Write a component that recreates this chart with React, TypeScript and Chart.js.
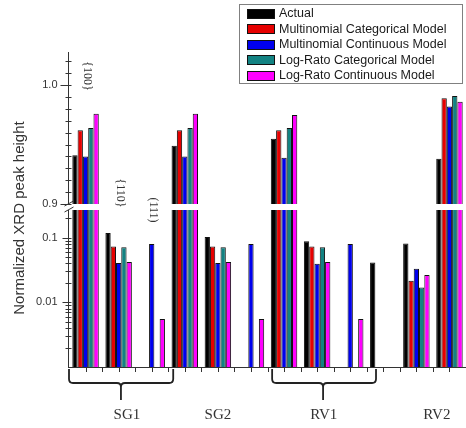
import React, { useEffect, useRef } from 'react';
import { Chart, registerables } from 'chart.js';

Chart.register(...registerables);

// ---- data ----
const categories = [
  'SG1 {100}', 'SG1 {110}', 'SG1 (111)',
  'SG2 {100}', 'SG2 {110}', 'SG2 (111)',
  'RV1 {100}', 'RV1 {110}', 'RV1 (111)',
  'RV2 (111)', 'RV2 {110}', 'RV2 {100}',
];
const seriesNames = [
  'Actual',
  'Multinomial Categorical Model',
  'Multinomial Continuous Model',
  'Log-Rato Categorical Model',
  'Log-Rato Continuous Model',
];
const actual = [0.941, 0.118, null, 0.949, 0.1025, null, 0.955, 0.088, null, 0.0414, 0.081, 0.938];
const multinomialCategorical = [0.962, 0.073, null, 0.962, 0.073, null, 0.962, 0.073, null, null, 0.0216, 0.989];
const multinomialContinuous = [0.94, 0.0405, 0.08, 0.94, 0.0405, 0.08, 0.939, 0.0396, 0.08, null, 0.033, 0.982];
const logRatoCategorical = [0.964, 0.0708, null, 0.964, 0.0708, null, 0.964, 0.0708, null, null, 0.017, 0.991];
const logRatoContinuous = [0.976, 0.042, 0.0055, 0.976, 0.042, 0.0055, 0.975, 0.042, 0.0055, null, 0.0264, 0.986];
const seriesColors = ['#000000', '#e60000', '#0000ee', '#128282', '#ff00ff'];

const groupLabels = ['SG1', 'SG2', 'RV1', 'RV2'];
const planeLabels = ['{100}', '{110}', '(111)'];
const upperLabelTicks = [0.9, 1.0];
const lowerLabelTicks = [0.01, 0.1];

// axis break: upper part linear from BREAK, lower part logarithmic up to LOW_CAP
const BREAK = 0.9;
const LOW_CAP = 0.3;

const allSeries = [actual, multinomialCategorical, multinomialContinuous, logRatoCategorical, logRatoContinuous];

// ---- layout constants (pixels) ----
const W = 466;
const H = 428;

const decorPlugin = {
  id: 'decor',
  afterDatasetsDraw(chart: any) {
    const { ctx, chartArea: ca, scales } = chart;
    const xs = scales.x;
    const yLow = scales.yLow;
    const yHigh = scales.yHigh;
    const axisX = ca.left - 0.5;
    const breakTop = Math.round(yHigh.getPixelForValue(BREAK));
    const breakBottom = breakTop + 6;
    const half = (xs.getPixelForValue(1) - xs.getPixelForValue(0)) / 2;

    ctx.save();
    // white gap across the bars
    ctx.fillStyle = '#ffffff';
    ctx.fillRect(ca.left - 6, breakTop, ca.right - ca.left + 6, breakBottom - breakTop);

    ctx.strokeStyle = '#333333';
    ctx.lineWidth = 1;
    const hline = (y: number, x0: number, x1: number) => {
      const yy = Math.round(y) + 0.5;
      ctx.beginPath();
      ctx.moveTo(x0, yy);
      ctx.lineTo(x1, yy);
      ctx.stroke();
    };

    // y axis line (broken)
    ctx.beginPath();
    ctx.moveTo(axisX, ca.top);
    ctx.lineTo(axisX, breakTop);
    ctx.moveTo(axisX, breakBottom);
    ctx.lineTo(axisX, ca.bottom + 1);
    ctx.stroke();
    // break marks
    ctx.beginPath();
    ctx.moveTo(axisX - 4, breakTop + 2);
    ctx.lineTo(axisX + 5, breakTop - 3);
    ctx.moveTo(axisX - 4, breakBottom + 2);
    ctx.lineTo(axisX + 5, breakBottom - 3);
    ctx.stroke();

    ctx.font = '11px "Liberation Sans", Arial, sans-serif';
    ctx.fillStyle = '#333333';
    ctx.textAlign = 'right';
    ctx.textBaseline = 'middle';

    // upper ticks (linear)
    for (let k = 90; k <= 102; k++) {
      const v = k / 100;
      const y = yHigh.getPixelForValue(v);
      const major = upperLabelTicks.some((t) => Math.abs(t - v) < 1e-9);
      hline(y, major ? axisX - 8 : axisX - 3, axisX + 3);
      if (major) ctx.fillText(v.toFixed(1), axisX - 11, y);
    }
    // lower ticks (log)
    for (const d of [0.001, 0.01, 0.1]) {
      for (let m = 1; m <= 9; m++) {
        const v = m * d;
        if (v > LOW_CAP + 1e-9) break;
        if (m === 1 && d === 0.001) continue;
        const y = yLow.getPixelForValue(v);
        if (y < breakBottom + 1) continue;
        const major = lowerLabelTicks.some((t) => Math.abs(t - v) < 1e-12);
        hline(y, major ? axisX - 6 : axisX - 3, axisX + 3);
        if (major) ctx.fillText(String(v), axisX - 11, y);
      }
    }

    // x axis line and ticks
    hline(ca.bottom, axisX, ca.right);
    ctx.beginPath();
    for (let i = 0; i < categories.length; i++) {
      const c = Math.round(xs.getPixelForValue(i)) + 0.5;
      ctx.moveTo(c, ca.bottom);
      ctx.lineTo(c, ca.bottom + 5);
      if (i < categories.length - 1) {
        const b = Math.round(xs.getPixelForValue(i) + half) + 0.5;
        ctx.moveTo(b, ca.bottom);
        ctx.lineTo(b, ca.bottom + 5);
      }
    }
    ctx.stroke();

    // braces
    const brace = (x0: number, x1: number, xm: number) => {
      const yTop = ca.bottom + 2;
      const yBar = ca.bottom + 16;
      const yTip = ca.bottom + 33;
      const r = 4;
      ctx.beginPath();
      ctx.moveTo(x0, yTop);
      ctx.lineTo(x0, yBar - r);
      ctx.quadraticCurveTo(x0, yBar, x0 + r, yBar);
      ctx.lineTo(xm - r, yBar);
      ctx.quadraticCurveTo(xm, yBar, xm, yBar + r);
      ctx.lineTo(xm, yTip);
      ctx.moveTo(xm, yBar + r);
      ctx.quadraticCurveTo(xm, yBar, xm + r, yBar);
      ctx.lineTo(x1 - r, yBar);
      ctx.quadraticCurveTo(x1, yBar, x1, yBar - r);
      ctx.lineTo(x1, yTop);
      ctx.stroke();
    };
    ctx.strokeStyle = '#222222';
    ctx.lineWidth = 1.8;
    const px = (i: number) => xs.getPixelForValue(i);
    brace(px(-0.5), px(2.65), px(1.07));
    brace(px(5.64), px(8.78), px(7.18));

    // group labels
    ctx.font = '15px "Liberation Serif", "Times New Roman", serif';
    ctx.fillStyle = '#333333';
    ctx.textAlign = 'center';
    ctx.textBaseline = 'middle';
    const groupPos = [1.25, 4, 7.2, 10.62];
    groupLabels.forEach((g, i) => ctx.fillText(g, px(groupPos[i]), ca.bottom + 48));

    // plane annotations (rotated)
    ctx.font = '12px "Liberation Serif", "Times New Roman", serif';
    const planeY = [76, 193, 210];
    planeLabels.forEach((t, i) => {
      ctx.save();
      ctx.translate(px(i) + 1.5, planeY[i]);
      ctx.rotate(Math.PI / 2);
      ctx.fillText(t, 0, 0);
      ctx.restore();
    });

    // y axis title
    ctx.save();
    ctx.font = '15px "Liberation Sans", Arial, sans-serif';
    ctx.fillStyle = '#333333';
    ctx.translate(20, 218);
    ctx.rotate(-Math.PI / 2);
    ctx.fillText('Normalized XRD peak height', 0, 0);
    ctx.restore();

    // legend
    const lx = 239.5;
    const ly = 4.5;
    ctx.fillStyle = '#ffffff';
    ctx.fillRect(lx, ly, 223, 79);
    ctx.strokeStyle = '#808080';
    ctx.lineWidth = 1;
    ctx.strokeRect(lx, ly, 223, 79);
    ctx.font = '12.5px "Liberation Sans", Arial, sans-serif';
    ctx.textAlign = 'left';
    seriesNames.forEach((name, i) => {
      const cy = 13.5 + i * 15.5;
      ctx.fillStyle = seriesColors[i];
      ctx.fillRect(247, Math.round(cy - 5), 28, 10);
      ctx.strokeStyle = '#111111';
      ctx.strokeRect(247.5, Math.round(cy - 5) + 0.5, 27, 9);
      ctx.fillStyle = '#1a1a1a';
      ctx.fillText(name, 279, cy + 0.5);
    });

    ctx.restore();
  },
};

export default function App() {
  const canvasRef = useRef<HTMLCanvasElement | null>(null);

  useEffect(() => {
    const canvas = canvasRef.current;
    if (!canvas) return;

    // lower (log) part and upper (linear) part of each series share one slot in the group
    const lowerSets = allSeries.map((s, i) => ({
      label: seriesNames[i],
      data: s.map((v) => (v == null ? null : v >= BREAK ? LOW_CAP : v)),
      backgroundColor: seriesColors[i],
      borderColor: '#111111',
      borderWidth: 1,
      stack: 'series' + i,
      yAxisID: 'yLow',
    }));
    const upperSets = allSeries.map((s, i) => ({
      label: seriesNames[i] + ' (upper)',
      data: s.map((v) => (v != null && v >= BREAK ? [BREAK, v] : null)),
      backgroundColor: seriesColors[i],
      borderColor: '#111111',
      borderWidth: 1,
      stack: 'series' + i,
      yAxisID: 'yHigh',
    }));

    const chart = new Chart(canvas, {
      type: 'bar',
      data: { labels: categories, datasets: [...lowerSets, ...upperSets] as any },
      options: {
        responsive: false,
        animation: false,
        layout: { padding: { left: 69, top: 52, right: 0, bottom: 61 } },
        datasets: { bar: { categoryPercentage: 0.8, barPercentage: 1.0 } },
        plugins: { legend: { display: false }, tooltip: { enabled: false } },
        scales: {
          x: { type: 'category', display: false, offset: true },
          yLow: { type: 'logarithmic', display: false, stacked: false, min: 0.001, max: 74, position: 'left' },
          yHigh: { type: 'linear', display: false, stacked: false, min: 0.7627, max: 1.028, position: 'left' },
        },
      } as any,
      plugins: [decorPlugin],
    });
    return () => chart.destroy();
  }, []);

  return (
    <div style={{ position: 'fixed', left: 0, top: 0, width: W, height: H, background: '#fff' }}>
      <canvas ref={canvasRef} width={W} height={H} style={{ display: 'block' }} />
    </div>
  );
}
